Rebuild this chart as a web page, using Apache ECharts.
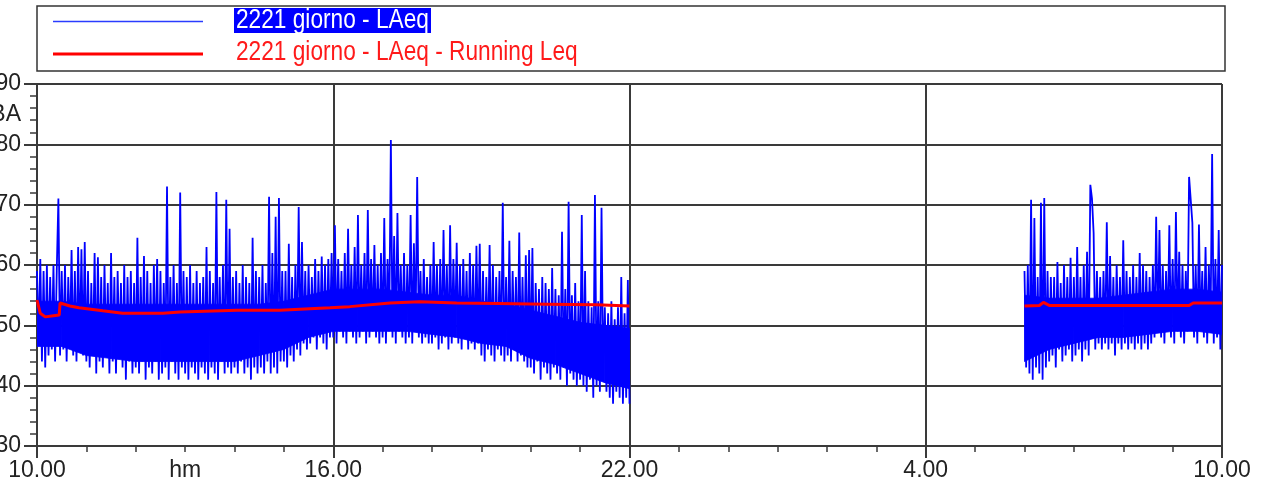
<!DOCTYPE html>
<html><head><meta charset="utf-8">
<script src="https://cdn.jsdelivr.net/npm/echarts@6/dist/echarts.min.js"></script>
<style>html,body{margin:0;padding:0;background:#fff}#c{width:1264px;height:488px}</style>
</head><body><div id="c"></div>
<script>
// minutes after 10.00
const seg1StartMin = 0;
const seg2StartMin = 1200;
const stepMin = 2;
const laeqSeg1 = [
59,47,61,44,59,43,60,45,58,46,60,44,59,71,45,
59,46,60,44,58,47,62.5,45,59,44,63,46,62.6,45,63.8,
44,59,43,57,45,62,42,61.3,44,58,43,60,45,57,42,
62,44,58,42,59,45,57,43,60,41,58,44,59,42,57,
43,64.5,42,58,44,61.5,41,59,43,57,42,60,44,61,41,
59,42,57,43,73,41,58,44,60,42,57,41,72,43,59,
42,58,41,60,43,57,42,59,41,57,43,58,42,63,41,
59,43,57,42,72.1,41,58,44,60,42,70.8,43,66,42,58,
43,59,42,57,44,60,42,58,43,57,41,64.5,43,59,42,
58,43,60,42,57,44,71.3,42,62,43,68,42,71.1,44,59,
44,59,43,63.5,45,58,44,60,46,69.6,45,63.8,47,59,46,
60,47,58,48,61,46,59,48,61.4,47,60,46,61,48,62,
48,66.6,47,61,49,59,48,62,47,66,49,60,48,63,47,
68.3,48,60,49,62,47,69.1,48,61,49,63.3,48,60,47,62,
48,67.8,47,61,49,80.7,48,64.8,47,68.6,49,60,48,62,47,
60,48,68.3,47,63.6,49,74.6,48,59,47,61,48,58,47,60,
47,63.8,48,60,46,61,47,65.8,48,60,46,66.6,47,61,48,
63.7,47,60,46,61,48,59,46,62,47,60,46,63.2,47,63.5,
45,59,44,58,46,63.3,45,60,44,58,46,59,45,70.3,44,
58,45,64,44,59,46,58,44,65.4,45,58,44,61.6,43,62.5,
43,62.8,42,57,44,56,41,58,43,57,42,56,41,59.5,43,
56,42,55,41,65.5,43,56,40,70.5,42,55,41,57,40,54,
41,68.3,40,59,39,54,41,53,38,71.6,40,54,39,69.5,41,
53,39,52,38,54,37,51,39,53,38,58,37,52,38,57.5,
37
];
const laeqSeg2 = [
59,43,60,42,70.8,41,67.8,43,58,42,70.3,41,71.1,43,59,
44,58,45,58,43,60.5,46,57,44,60,45,58,46,61.2,44,
58,45,63,46,58,44,60,46,62.2,45,73.3,71,65.3,46,59,
47,58,46,59,47,67.1,46,61.5,47,58,45,60,47,58,46,
64.1,47,59,46,58,47,60,46,58,47,62,46,60,47,59,
46,58,47,60,48,68,49,65.8,48,60,47,59,49,66.6,48,
61,47,68.8,49,62.2,48,60,47,59,49,74.6,74.3,67,48,60,
47,66.7,49,59,48,63,47,60,49,78.4,47,61,48,65.8,46,
60
];
// dense core of the LAeq band, read every 30 minutes
const coreStepMin = 30;
const coreLowSeg1  = [46.5,46.5,45,44.5,44,44,44,44,44,45,46,48,49,49,49,49,48.5,48,47,46.5,44.5,43.5,42,40.5,39.5];
const coreHighSeg1 = [54,54,53.5,53.5,53.5,53.5,53.5,53.5,53.5,53.5,54,55,56,56,56,55.5,55,55,54,53.5,52.5,51.5,50.5,50,49.5];
const coreLowSeg2  = [44,46,47,48,48,48.5,49,49,48.5];
const coreHighSeg2 = [55,54.5,54.5,54.5,55,55.5,56,56,55.5];
const leqSeg1Min = [0,4,10,20,27,28,40,51,80,104,153,174,243,295,356,380,429,465,510,560,620,680,720];
const leqSeg1Val = [54.2,52.0,51.4,51.6,51.7,53.7,53.2,52.9,52.4,52.0,52.0,52.2,52.5,52.5,52.9,53.1,53.7,53.9,53.7,53.6,53.5,53.4,53.2];
const leqSeg2Min = [1200,1218,1223,1230,1400,1405,1440];
const leqSeg2Val = [53.2,53.3,53.8,53.3,53.3,53.7,53.7];
const xTickHours = [0,6,12,18,24];
const xTickLabels = ['10.00','16.00','22.00','4.00','10.00'];
const xUnitLabel = 'hm';
const yUnitLabel = 'dBA';
const seriesNames = ['2221 giorno - LAeq','2221 giorno - LAeq - Running Leq'];

const FONT = '"Liberation Sans",Arial,sans-serif';
const FS = 23;
const AX = '#3a3a3a';
const GAP_H = 16;

const blueData = [];
laeqSeg1.forEach((v,i)=>blueData.push([(seg1StartMin+i*stepMin)/60, v]));
blueData.push([GAP_H, null]);
laeqSeg2.forEach((v,i)=>blueData.push([(seg2StartMin+i*stepMin)/60, v]));
const redData = [];
leqSeg1Min.forEach((m,i)=>redData.push([m/60, leqSeg1Val[i]]));
redData.push([GAP_H, null]);
leqSeg2Min.forEach((m,i)=>redData.push([m/60, leqSeg2Val[i]]));
// core band pieces: [t0, t1, low0, high0, low1, high1]
const coreData = [];
function addCore(startMin, lows, highs){
  for(let i=0;i<lows.length-1;i++){
    coreData.push([(startMin+i*coreStepMin)/60, (startMin+(i+1)*coreStepMin)/60, lows[i], highs[i], lows[i+1], highs[i+1]]);
  }
}
addCore(seg1StartMin, coreLowSeg1, coreHighSeg1);
addCore(seg2StartMin, coreLowSeg2, coreHighSeg2);

const chart = echarts.init(document.getElementById('c'), null, {renderer:'canvas'});
const lblStyle = {color:'#222', fontSize:FS, fontFamily:FONT};
chart.setOption({
  animation:false,
  backgroundColor:'#fff',
  grid:{left:37, right:42, top:84, bottom:42, containLabel:false, outerBoundsMode:'none'},
  xAxis:[{
    type:'value', min:0, max:24, interval:6, position:'bottom',
    axisLine:{show:true, onZero:false, lineStyle:{color:AX, width:2}},
    axisTick:{show:true, length:12, lineStyle:{color:AX, width:2}},
    minorTick:{show:true, splitNumber:6, length:6, lineStyle:{color:AX, width:1.5}},
    splitLine:{show:true, lineStyle:{color:AX, width:2}},
    axisLabel:Object.assign({margin:13, formatter:v=>{const k=xTickHours.indexOf(v);return k>=0?xTickLabels[k]:'';}, showMinLabel:true, showMaxLabel:true}, lblStyle)
  },{
    type:'value', min:0, max:24, interval:3, position:'bottom',
    axisLine:{show:false}, axisTick:{show:false}, splitLine:{show:false},
    axisLabel:Object.assign({margin:13, formatter:v=>v===3?xUnitLabel:''}, lblStyle)
  }],
  yAxis:[{
    type:'value', min:30, max:90, interval:10, position:'left',
    axisLine:{show:true, onZero:false, lineStyle:{color:AX, width:2}},
    axisTick:{show:true, length:13, lineStyle:{color:AX, width:2}},
    minorTick:{show:true, splitNumber:5, length:7, lineStyle:{color:AX, width:1.5}},
    splitLine:{show:true, lineStyle:{color:AX, width:2}},
    axisLabel:Object.assign({margin:16, showMinLabel:true, showMaxLabel:true}, lblStyle)
  },{
    type:'value', min:30, max:90, interval:5, position:'left',
    axisLine:{show:false}, axisTick:{show:false}, splitLine:{show:false},
    axisLabel:Object.assign({margin:16, formatter:v=>v===85?yUnitLabel:''}, lblStyle)
  }],
  series:[{
    type:'custom', data:coreData, silent:true, z:1, clip:true,
    encode:{x:[0,1], y:[2,3,4,5]},
    renderItem:(params, api)=>{
      const a = api.coord([api.value(0), api.value(2)]);
      const b = api.coord([api.value(0), api.value(3)]);
      const c = api.coord([api.value(1), api.value(5)]);
      const d = api.coord([api.value(1), api.value(4)]);
      return {type:'polygon', shape:{points:[a,b,c,d]}, style:{fill:'#0000ff', stroke:'#0000ff', lineWidth:0.8}};
    }
  },{
    name:seriesNames[0], type:'line', data:blueData, showSymbol:false, symbol:'none',
    connectNulls:false, sampling:null, z:2,
    lineStyle:{color:'#0000ff', width:1.8}
  },{
    name:seriesNames[1], type:'line', data:redData, showSymbol:false, symbol:'none',
    connectNulls:false, z:3,
    lineStyle:{color:'#ff0000', width:3}
  }],
  graphic:[
    {type:'rect', shape:{x:37,y:6,width:1188,height:65}, style:{fill:'#fff', stroke:'#333', lineWidth:1.5}},
    {type:'line', shape:{x1:53,y1:21.5,x2:203,y2:21.5}, style:{stroke:'#2a3cff', lineWidth:1.5}},
    {type:'line', shape:{x1:53,y1:54,x2:203,y2:54}, style:{stroke:'#ff0000', lineWidth:3}},
    {type:'rect', shape:{x:234,y:8,width:197,height:25}, style:{fill:'#0000ff'}},
    {type:'text', x:236, y:21, scaleX:0.84, style:{text:seriesNames[0], fill:'#ffffff', fontSize:27, fontFamily:FONT, verticalAlign:'middle'}},
    {type:'text', x:236, y:53, scaleX:0.84, style:{text:seriesNames[1], fill:'#ff1a1a', fontSize:27, fontFamily:FONT, verticalAlign:'middle'}}
  ]
});
</script></body></html>
